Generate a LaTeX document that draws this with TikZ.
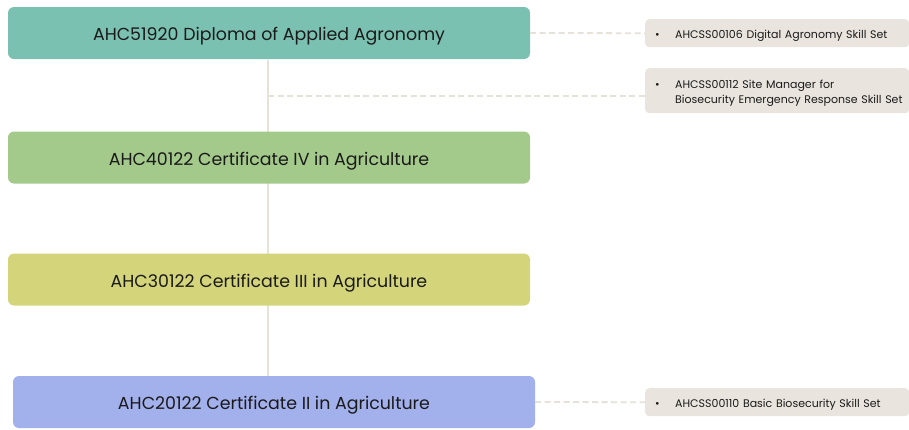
\documentclass[tikz,border=0pt]{standalone}
\usepackage{fontspec}
\setmainfont{Poppins}
\usetikzlibrary{positioning}
\definecolor{cteal}{HTML}{7BC1B2}
\definecolor{cgreen}{HTML}{A3C98B}
\definecolor{cyellow}{HTML}{D4D57A}
\definecolor{cblue}{HTML}{A2B0EC}
\definecolor{cskill}{HTML}{E9E5DE}
\definecolor{cline}{HTML}{E6E2DA}
\definecolor{ctext}{HTML}{1A1A1A}
\tikzset{
  x=1pt, y=1pt,
  mainbox/.style={rounded corners=6pt, minimum width=522pt, minimum height=52pt, inner sep=0pt, text=ctext, font=\fontsize{17.4}{20}\selectfont},
  skillbox/.style={rounded corners=4pt, fill=cskill, anchor=north west, minimum width=264pt, inner xsep=10pt, inner ysep=0pt, text width=244pt, align=left, text=ctext, font=\fontsize{11}{14.5}\selectfont},
  vline/.style={draw=cline, line width=1.6pt},
  dline/.style={draw=cline, line width=1.8pt, dash pattern=on 6pt off 3.5pt}
}
\newcommand{\lowered}[2]{\raisebox{-#1}[\height][\depth]{#2}}
\newcommand{\skillitem}[1]{\lowered{2.5pt}{\begin{tabular}{@{}p{20pt}@{}l@{}}\textbullet & #1\end{tabular}}}
\begin{document}
\begin{tikzpicture}
\useasboundingbox (0,0) rectangle (909,-429);
% connectors (behind)
\coordinate (top) at (268,-60);
\coordinate (bot) at (268,-377);
\coordinate (j) at (268,-96);
\draw[vline] (top) -- (bot);
% main boxes
\node[mainbox, fill=cteal] (d) at (269,-33) {\lowered{3.5pt}{AHC51920 Diploma of Applied Agronomy}};
\node[mainbox, fill=cgreen] (c4) at (269,-157.5) {\lowered{3.5pt}{AHC40122 Certificate IV in Agriculture}};
\node[mainbox, fill=cyellow] (c3) at (269,-279.5) {\lowered{3.5pt}{AHC30122 Certificate III in Agriculture}};
\node[mainbox, fill=cblue] (c2) at (274,-402) {\lowered{3.5pt}{AHC20122 Certificate II in Agriculture}};
% skill boxes
\node[skillbox, minimum height=28pt] (sA) at (645,-19) {\skillitem{AHCSS00106 Digital Agronomy Skill Set}};
\node[skillbox, minimum height=45pt] (sB) at (645,-68) {\skillitem{AHCSS00112 Site Manager for\\ & Biosecurity Emergency Response Skill Set}};
\node[skillbox, minimum height=28pt] (sC) at (645,-388) {\skillitem{AHCSS00110 Basic Biosecurity Skill Set}};
% dashed connectors
\draw[dline] (d.east) -- (sA.west);
\draw[dline] (j) -- (j -| sB.west);
\draw[dline] (c2.east) -- (sC.west);
\end{tikzpicture}
\end{document}
